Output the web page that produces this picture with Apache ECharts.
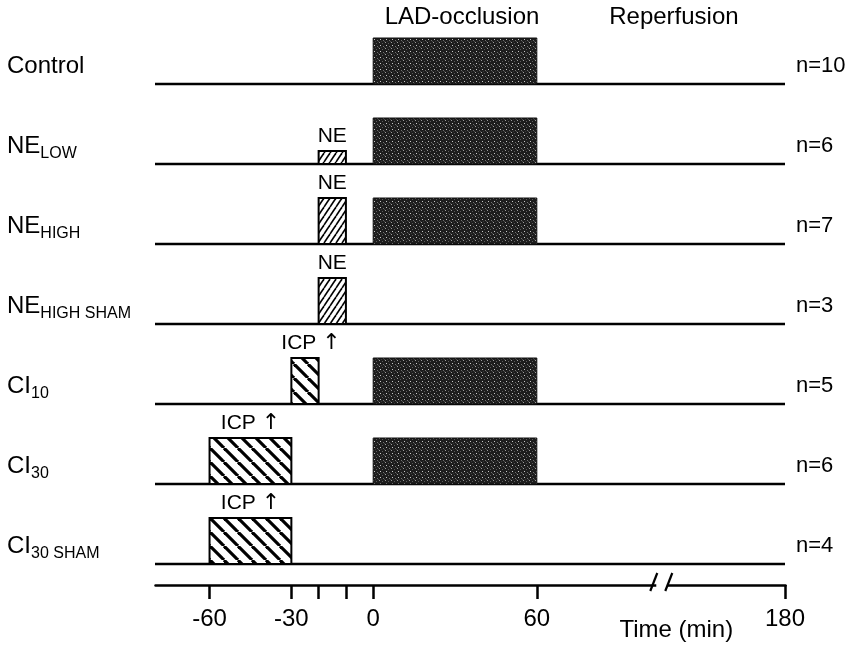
<!DOCTYPE html>
<html>
<head>
<meta charset="utf-8">
<script src="https://cdn.jsdelivr.net/npm/echarts@6/dist/echarts.min.js"></script>
<style>
  html, body { margin: 0; padding: 0; background: #fff; }
  #chart { width: 858px; height: 649px; }
</style>
</head>
<body>
<div id="chart"></div>
<script>
// Experimental groups (rows, top to bottom)
const rowMain = ['Control', 'NE', 'NE', 'NE', 'CI', 'CI', 'CI'];
const rowSub = ['', 'LOW', 'HIGH', 'HIGH SHAM', '10', '30', '30 SHAM'];
const groupN = [10, 6, 7, 3, 5, 6, 4];

// Protocol phases shown as headers: [name, start, end] (min)
const phases = [['LAD-occlusion', 0, 60], ['Reperfusion', 60, 180]];

// LAD occlusion per row: [row, start, end]
const occlusion = [[0, 0, 60], [1, 0, 60], [2, 0, 60], [4, 0, 60], [5, 0, 60]];
// Norepinephrine infusion: [row, start, end, dose]
const neInfusion = [[1, -20, -10, 'low'], [2, -20, -10, 'high'], [3, -20, -10, 'high']];
// Raised intracranial pressure: [row, start, end]
const icpRaise = [[4, -30, -20], [5, -60, -30], [6, -60, -30]];

// Time axis
const timeExtent = [-80, 180];
const tickValues = [-60, -30, -20, -10, 0, 60, 180];
const labelValues = [-60, -30, 0, 60, 180];
const timeBreak = { start: 104, end: 137, gap: 4 };

// ---- drawing styles ----
const FONT = 'Liberation Sans, Arial, Helvetica, sans-serif';
const BOX_H = 46;
const DOSE_H = { low: 13, high: 46 };

function makeTile(w, h, draw) {
  const c = document.createElement('canvas');
  c.width = w; c.height = h;
  draw(c.getContext('2d'), w, h);
  return { image: c, repeat: 'repeat' };
}
// dark stippled fill of the occlusion blocks
const stipple = makeTile(6, 6, (g, w, h) => {
  g.fillStyle = '#1d1d1d'; g.fillRect(0, 0, w, h);
  const dots = [[1, 0, '#9a9a9a'], [4, 1, '#5a5a5a'], [2, 3, '#c8c8c8'], [5, 4, '#707070'], [0, 5, '#4a4a4a'], [3, 5, '#3a3a3a']];
  dots.forEach(([x, y, col]) => { g.fillStyle = col; g.fillRect(x, y, 1, 1); });
});
// fine forward hatching (NE)
const hatchNE = makeTile(6, 9, (g, w, h) => {
  g.fillStyle = '#fff'; g.fillRect(0, 0, w, h);
  g.strokeStyle = '#000'; g.lineWidth = 1.6;
  [-w, 0, w].forEach(dx => {
    g.beginPath(); g.moveTo(dx, h); g.lineTo(dx + w, 0); g.stroke();
  });
});
// broad backward hatching (ICP)
const hatchICP = makeTile(14, 14, (g, w, h) => {
  g.fillStyle = '#fff'; g.fillRect(0, 0, w, h);
  g.strokeStyle = '#000'; g.lineWidth = 3.2;
  [-w, 0, w].forEach(dx => {
    g.beginPath(); g.moveTo(dx, 0); g.lineTo(dx + w, h); g.stroke();
  });
});

const boxLabelRich = {
  t: { fontSize: 21, fontFamily: FONT, color: '#000' },
  a: { fontSize: 22, fontFamily: 'DejaVu Sans', color: '#000' }
};

function baseOf(api, row) {
  const c = api.coord([0, row]);
  return c[1] + api.size([0, 1])[1] / 2;
}

function boxItem(api, fill, h, label, dx) {
  const row = api.value(0);
  const x0 = api.coord([api.value(1), row])[0];
  const x1 = api.coord([api.value(2), row])[0];
  const base = baseOf(api, row);
  const children = [{
    type: 'rect',
    shape: { x: x0, y: base - h, width: x1 - x0, height: h },
    style: { fill: fill, stroke: '#000', lineWidth: 2 }
  }];
  if (label) {
    children.push({
      type: 'text',
      style: {
        x: (x0 + x1) / 2 + (dx || 0), y: base - h - 4,
        text: label, rich: boxLabelRich,
        align: 'center', verticalAlign: 'bottom'
      }
    });
  }
  return { type: 'group', children };
}

const chart = echarts.init(document.getElementById('chart'), null, { renderer: 'canvas' });

const yLabelRich = {
  m: { fontSize: 24, fontFamily: FONT, color: '#000', lineHeight: 28 },
  s: { fontSize: 16, fontFamily: FONT, color: '#000', verticalAlign: 'bottom', lineHeight: 31 }
};
const nLabelRich = {
  n: { fontSize: 22, fontFamily: FONT, color: '#000', lineHeight: 28 }
};

chart.setOption({
  animation: false,
  backgroundColor: '#fff',
  grid: { left: 155, right: 73, top: 4, bottom: 85 },
  xAxis: {
    type: 'value',
    min: timeExtent[0], max: timeExtent[1],
    offset: 21,
    breaks: [timeBreak],
    breakArea: { show: false },
    splitLine: { show: false },
    axisLine: { show: true, lineStyle: { color: '#000', width: 2.5 } },
    axisTick: { show: true, customValues: tickValues, length: 14, lineStyle: { color: '#000', width: 2.5 } },
    axisLabel: {
      customValues: labelValues, margin: 22,
      color: '#000', fontSize: 24, fontFamily: FONT
    }
  },
  yAxis: [{
    type: 'category', inverse: true,
    data: rowMain,
    axisLine: { show: false }, axisTick: { show: false }, splitLine: { show: false },
    axisLabel: {
      align: 'left', margin: 148, padding: [44, 0, 0, 0],
      formatter: (v, i) => rowSub[i] ? '{m|' + rowMain[i] + '}{s|' + rowSub[i] + '}' : '{m|' + rowMain[i] + '}',
      rich: yLabelRich
    }
  }, {
    type: 'category', inverse: true, position: 'right',
    data: groupN.map(n => 'n=' + n),
    axisLine: { show: false }, axisTick: { show: false }, splitLine: { show: false },
    axisLabel: {
      align: 'left', margin: 11, padding: [44, 0, 0, 0],
      formatter: v => '{n|' + v + '}',
      rich: nLabelRich
    }
  }],
  series: [
    {
      // timeline baseline of every group
      type: 'custom', name: 'baseline',
      data: rowMain.map((_, i) => [i, timeExtent[0], timeExtent[1]]),
      encode: { y: 0, x: [1, 2] },
      renderItem: (params, api) => {
        const row = api.value(0);
        const x0 = api.coord([api.value(1), row])[0];
        const x1 = api.coord([api.value(2), row])[0];
        const y = baseOf(api, row);
        return { type: 'line', shape: { x1: x0, y1: y, x2: x1, y2: y }, style: { stroke: '#000', lineWidth: 2.5 } };
      },
      clip: false, silent: true
    },
    {
      type: 'custom', name: 'LAD-occlusion',
      data: occlusion,
      encode: { y: 0, x: [1, 2] },
      renderItem: (params, api) => {
        const row = api.value(0);
        const x0 = api.coord([api.value(1), row])[0];
        const x1 = api.coord([api.value(2), row])[0];
        const base = baseOf(api, row);
        return { type: 'rect', shape: { x: x0, y: base - BOX_H, width: x1 - x0, height: BOX_H }, style: { fill: stipple, stroke: '#111', lineWidth: 1 } };
      },
      clip: false, silent: true
    },
    {
      type: 'custom', name: 'NE',
      data: neInfusion,
      encode: { y: 0, x: [1, 2] },
      renderItem: (params, api) => boxItem(api, hatchNE, DOSE_H[neInfusion[params.dataIndex][3]], '{t|NE}', 0),
      clip: false, silent: true
    },
    {
      type: 'custom', name: 'ICP',
      data: icpRaise,
      encode: { y: 0, x: [1, 2] },
      renderItem: (params, api) => {
        const narrow = api.value(2) - api.value(1) < 20;
        return boxItem(api, hatchICP, BOX_H, '{t|ICP }{a|\u2191}', narrow ? 6 : 0);
      },
      clip: false, silent: true
    },
    {
      // phase headers above the protocol
      type: 'custom', name: 'phases',
      data: phases.map(p => [0, p[1], p[2]]),
      encode: { y: 0, x: [1, 2] },
      renderItem: (params, api) => {
        const x0 = api.coord([api.value(1), 0])[0];
        const x1 = api.coord([api.value(2), 0])[0];
        const top = api.coord([0, 0])[1] - api.size([0, 1])[1] / 2;
        return {
          type: 'text',
          style: {
            x: (x0 + x1) / 2 + (params.dataIndex === 0 ? 7 : 13), y: top + 13,
            text: phases[params.dataIndex][0], fill: '#000', font: '24px ' + FONT,
            align: 'center', verticalAlign: 'middle'
          }
        };
      },
      clip: false, silent: true
    }
  ]
});

// axis break mark and axis title
const gridBottom = 649 - 85;
const axisY = gridBottom + 21;
const bx = chart.convertToPixel({ xAxisIndex: 0 }, (timeBreak.start + timeBreak.end) / 2);
chart.setOption({
  graphic: [
    { type: 'rect', shape: { x: bx - 6, y: axisY - 4, width: 11, height: 8 }, style: { fill: '#fff' }, z: 100 },
    { type: 'line', shape: { x1: bx - 12, y1: axisY + 6, x2: bx - 5, y2: axisY - 12 }, style: { stroke: '#000', lineWidth: 2.2 }, z: 101 },
    { type: 'line', shape: { x1: bx + 3, y1: axisY + 6, x2: bx + 10, y2: axisY - 12 }, style: { stroke: '#000', lineWidth: 2.2 }, z: 101 },
    {
      type: 'text', x: bx + 14, y: axisY + 45,
      style: { text: 'Time (min)', fill: '#000', font: '24px ' + FONT, align: 'center', verticalAlign: 'middle' }
    }
  ]
});
</script>
</body>
</html>
